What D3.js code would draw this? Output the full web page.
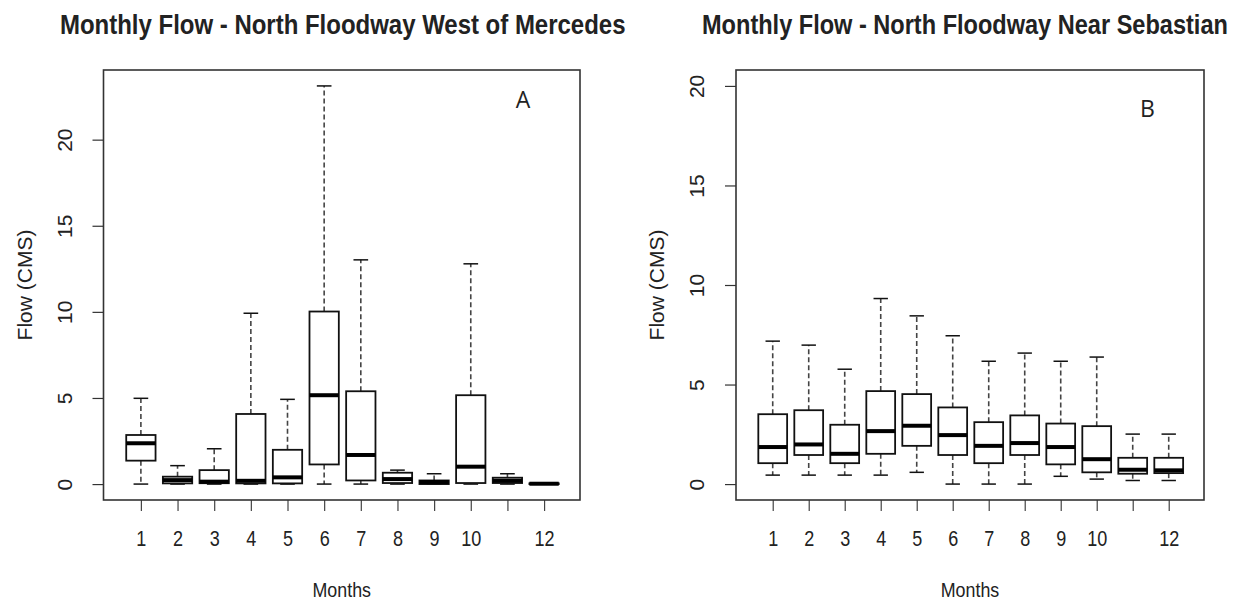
<!DOCTYPE html>
<html>
<head>
<meta charset="utf-8">
<script src="https://cdn.jsdelivr.net/npm/d3@7"></script>
<style>
  body { margin: 0; background: #fff; }
  svg { display: block; }
</style>
</head>
<body>
<svg id="chart" width="1244" height="602"></svg>
<script>
// Months on the x axis (label for 11 is dropped, as it would overlap)
const months = [1, 2, 3, 4, 5, 6, 7, 8, 9, 10, 11, 12];
const monthLabels = ["1", "2", "3", "4", "5", "6", "7", "8", "9", "10", "", "12"];
const flowTicks = [0, 5, 10, 15, 20];

// North Floodway West of Mercedes — monthly flow summaries (CMS)
const mercedesLow    = [0, 0, 0, 0, 0, 0, 0, 0, 0, 0, 0, 0];
const mercedesQ1     = [1.36, 0.04, 0.05, 0.04, 0.04, 1.14, 0.21, 0.06, 0.00, 0.06, 0.06, 0.00];
const mercedesMedian = [2.37, 0.23, 0.14, 0.19, 0.39, 5.16, 1.69, 0.29, 0.12, 1.01, 0.19, 0.02];
const mercedesQ3     = [2.85, 0.43, 0.81, 4.07, 1.99, 10.02, 5.39, 0.66, 0.21, 5.16, 0.37, 0.04];
const mercedesHigh   = [4.98, 1.07, 2.05, 9.92, 4.92, 23.12, 13.02, 0.81, 0.60, 12.79, 0.60, 0.05];

// North Floodway Near Sebastian — monthly flow summaries (CMS)
const sebastianLow    = [0.45, 0.45, 0.45, 0.45, 0.59, 0, 0, 0, 0.39, 0.25, 0.18, 0.18];
const sebastianQ1     = [1.05, 1.46, 1.05, 1.52, 1.92, 1.46, 1.05, 1.46, 0.99, 0.59, 0.52, 0.55];
const sebastianMedian = [1.86, 1.99, 1.52, 2.66, 2.93, 2.46, 1.92, 2.06, 1.86, 1.25, 0.72, 0.69];
const sebastianQ3     = [3.51, 3.71, 2.98, 4.67, 4.52, 3.85, 3.11, 3.45, 3.04, 2.91, 1.32, 1.32];
const sebastianHigh   = [7.18, 6.98, 5.77, 9.32, 8.45, 7.45, 6.17, 6.58, 6.17, 6.38, 2.51, 2.51];

const panels = [
  {
    title: "Monthly Flow - North Floodway West of Mercedes",
    letter: "A",
    low: mercedesLow, q1: mercedesQ1, median: mercedesMedian, q3: mercedesQ3, high: mercedesHigh,
    yLimit: d3.max(mercedesHigh),
    frame: { x0: 103.5, x1: 580, y0: 70, y1: 500 },
    titleX: 60, titleLen: 566,
    letterPos: [523, 108]
  },
  {
    title: "Monthly Flow - North Floodway Near Sebastian",
    letter: "B",
    low: sebastianLow, q1: sebastianQ1, median: sebastianMedian, q3: sebastianQ3, high: sebastianHigh,
    yLimit: 20,
    frame: { x0: 736, x1: 1204, y0: 70, y1: 500 },
    titleX: 702, titleLen: 526,
    letterPos: [1147.5, 117]
  }
];

const svg = d3.select("#chart");
const font = "'Liberation Sans', Arial, sans-serif";
const ink = "#222";

panels.forEach(p => {
  const f = p.frame;
  // x range padded like R: 0.5..12.5 extended by 4%
  const x = d3.scaleLinear().domain([-0.02, 12.98]).range([f.x0, f.x1]);
  const pad = p.yLimit * 0.04;
  const y = d3.scaleLinear().domain([-pad, p.yLimit + pad]).range([f.y1, f.y0]);
  const step = x(2) - x(1);
  const boxW = step * 0.8;
  const capW = boxW * 0.5;

  const g = svg.append("g");

  // Title: bold, horizontally condensed to its target width
  const title = g.append("text")
    .attr("font-family", font).attr("font-weight", "bold").attr("font-size", 27)
    .attr("fill", ink)
    .text(p.title);
  const natural = title.node().getComputedTextLength();
  title.attr("transform", `translate(${p.titleX},34) scale(${p.titleLen / natural},1)`);

  // Y axis
  const yAxis = g.append("g")
    .attr("transform", `translate(${f.x0},0)`)
    .call(d3.axisLeft(y).tickValues(flowTicks).tickSize(11).tickFormat(d3.format("d")));
  yAxis.select(".domain").remove();
  yAxis.selectAll(".tick line").attr("stroke", "#333").attr("stroke-width", 1.2);
  yAxis.selectAll(".tick text")
    .attr("transform", "rotate(-90)")
    .attr("x", 0).attr("y", -32).attr("dy", 0)
    .attr("text-anchor", "middle")
    .attr("font-family", font).attr("font-size", 21)
    .attr("fill", ink);

  // X axis
  const xAxis = g.append("g")
    .attr("transform", `translate(0,${f.y1})`)
    .call(d3.axisBottom(x).tickValues(months).tickSize(11)
      .tickFormat((d, i) => monthLabels[i]));
  xAxis.select(".domain").remove();
  xAxis.selectAll(".tick line").attr("stroke", "#444").attr("stroke-width", 1.2);
  xAxis.selectAll(".tick text")
    .attr("y", 46).attr("dy", 0)
    .attr("transform", "scale(0.82,1)")
    .attr("font-family", font).attr("font-size", 22)
    .attr("fill", ink);

  // Axis titles
  g.append("text")
    .attr("transform", `translate(${f.x0 - 72},${(f.y0 + f.y1) / 2}) rotate(-90)`)
    .attr("text-anchor", "middle")
    .attr("font-family", font).attr("font-size", 21)
    .attr("fill", ink)
    .text("Flow (CMS)");

  g.append("text")
    .attr("transform", `translate(${(f.x0 + f.x1) / 2},597) scale(0.85,1)`)
    .attr("text-anchor", "middle")
    .attr("font-family", font).attr("font-size", 21)
    .attr("fill", ink)
    .text("Months");

  // Boxes
  const rows = months.map((m, i) => ({
    m, low: p.low[i], q1: p.q1[i], med: p.median[i], q3: p.q3[i], high: p.high[i]
  }));
  const b = g.selectAll("g.box").data(rows).join("g").attr("class", "box");

  // whiskers
  b.append("line")
    .attr("x1", d => x(d.m)).attr("x2", d => x(d.m))
    .attr("y1", d => y(d.q3)).attr("y2", d => y(d.high))
    .attr("stroke", "#444").attr("stroke-width", 1.6).attr("stroke-dasharray", "5,3");
  b.append("line")
    .attr("x1", d => x(d.m)).attr("x2", d => x(d.m))
    .attr("y1", d => y(d.q1)).attr("y2", d => y(d.low))
    .attr("stroke", "#444").attr("stroke-width", 1.6).attr("stroke-dasharray", "5,3");
  // staples
  b.append("line")
    .attr("x1", d => x(d.m) - capW / 2).attr("x2", d => x(d.m) + capW / 2)
    .attr("y1", d => y(d.high)).attr("y2", d => y(d.high))
    .attr("stroke", "#111").attr("stroke-width", 1.5);
  b.append("line")
    .attr("x1", d => x(d.m) - capW / 2).attr("x2", d => x(d.m) + capW / 2)
    .attr("y1", d => y(d.low)).attr("y2", d => y(d.low))
    .attr("stroke", "#111").attr("stroke-width", 1.5);
  // box
  b.append("rect")
    .attr("x", d => x(d.m) - boxW / 2).attr("width", boxW)
    .attr("y", d => y(d.q3)).attr("height", d => Math.max(0.5, y(d.q1) - y(d.q3)))
    .attr("fill", "#fff").attr("stroke", "#111").attr("stroke-width", 1.8);
  // median
  b.append("line")
    .attr("x1", d => x(d.m) - boxW / 2).attr("x2", d => x(d.m) + boxW / 2)
    .attr("y1", d => y(d.med)).attr("y2", d => y(d.med))
    .attr("stroke", "#000").attr("stroke-width", 4);

  // Frame
  g.append("rect")
    .attr("x", f.x0).attr("y", f.y0)
    .attr("width", f.x1 - f.x0).attr("height", f.y1 - f.y0)
    .attr("fill", "none").attr("stroke", "#333").attr("stroke-width", 1.6);

  // Panel letter
  g.append("text")
    .attr("x", p.letterPos[0]).attr("y", p.letterPos[1])
    .attr("text-anchor", "middle")
    .attr("font-family", "'Open Sans', 'Noto Sans', sans-serif").attr("font-size", 23)
    .attr("fill", ink)
    .text(p.letter);
});
</script>
</body>
</html>
